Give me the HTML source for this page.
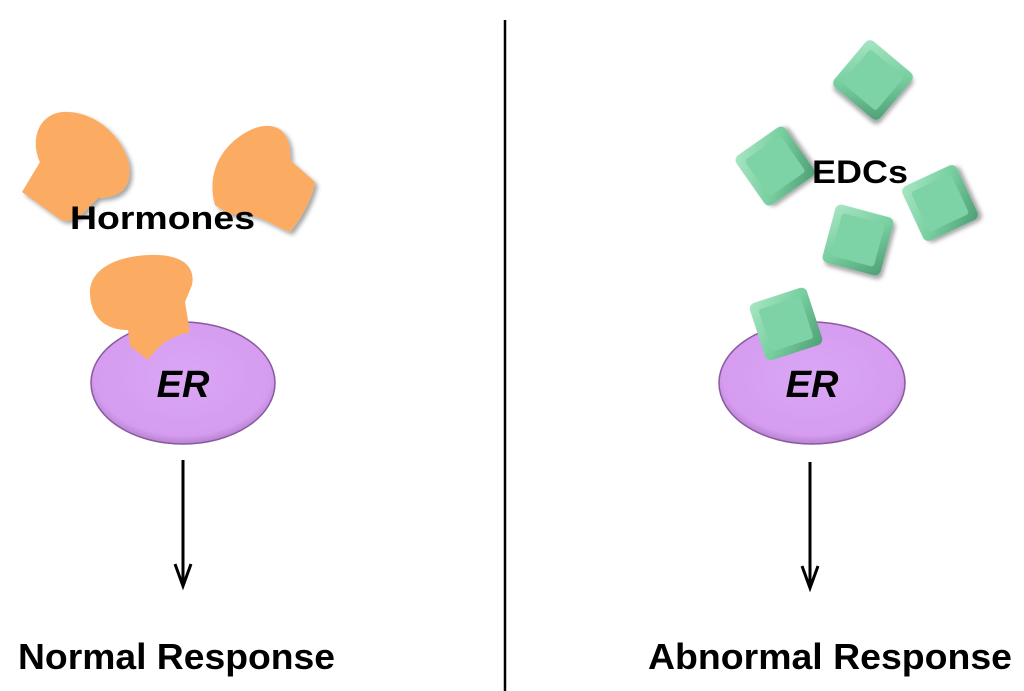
<!DOCTYPE html>
<html><head><meta charset="utf-8"><style>
html,body{margin:0;padding:0;background:#fff;}
svg{display:block;}
text{font-family:"Liberation Sans",Arial,sans-serif;font-weight:bold;fill:#000;}
</style></head><body>
<svg width="1024" height="691" viewBox="0 0 1024 691" xmlns="http://www.w3.org/2000/svg">
<defs>
<radialGradient id="er" cx="0.5" cy="0.45" r="0.6">
<stop offset="0" stop-color="#dba6f5"/><stop offset="0.8" stop-color="#d59cef"/><stop offset="1" stop-color="#a070b8"/>
</radialGradient>
<linearGradient id="gr" x1="0" y1="0" x2="1" y2="1">
<stop offset="0" stop-color="#a8e6c4"/><stop offset="0.5" stop-color="#78cfa0"/><stop offset="1" stop-color="#4e9e74"/>
</linearGradient>
<filter id="sh" x="-20%" y="-20%" width="150%" height="150%"><feDropShadow dx="3" dy="3" stdDeviation="2" flood-color="#000" flood-opacity="0.35"/></filter>
<g id="cube">
<rect x="-30" y="-30" width="60" height="60" rx="6" fill="url(#gr)"/>
<rect x="-22" y="-22" width="44" height="44" rx="3" fill="#7dd3a5"/>
</g>
</defs>
<line x1="505" y1="20" x2="505" y2="691" stroke="#000" stroke-width="2.5"/>

<path d="M40,162 C30,140 38,115 62,112 C90,110 118,130 128,160 C134,185 122,198 98,198 L88,208 C78,220 66,224 58,218 L22,192 Z" fill="#fbac62" filter="url(#sh)"/>
<path d="M215,205 C205,170 225,140 255,128 C280,120 292,135 290,160 L315,182 C312,200 300,220 290,232 C270,225 255,210 230,215 Z" fill="#fbac62" filter="url(#sh)"/>
<ellipse cx="183" cy="383" rx="92" ry="61" fill="url(#er)" stroke="#8a5aa0" stroke-width="1.5"/>
<path d="M90,295 C88,270 115,256 150,255 C180,254 196,265 192,285 L185,302 L190,332 C175,336 162,340 148,360 L130,346 L128,330 C110,330 92,322 90,295 Z" fill="#fbac62"/>
<text x="183" y="397" font-size="38" font-style="italic" text-anchor="middle">ER</text>
<text x="70" y="229" font-size="32" textLength="185" lengthAdjust="spacingAndGlyphs">Hormones</text>

<use href="#cube" transform="translate(873,80) rotate(40)" filter="url(#sh)"/>
<use href="#cube" transform="translate(775,166) rotate(-35)" filter="url(#sh)"/>
<use href="#cube" transform="translate(940,203) rotate(-25)" filter="url(#sh)"/>
<use href="#cube" transform="translate(858,240) rotate(15)" filter="url(#sh)"/>
<ellipse cx="812" cy="383" rx="93" ry="61" fill="url(#er)" stroke="#8a5aa0" stroke-width="1.5"/>
<use href="#cube" transform="translate(786,324) rotate(-18)"/>
<text x="812" y="397" font-size="38" font-style="italic" text-anchor="middle">ER</text>
<text x="812" y="183" font-size="32" textLength="96" lengthAdjust="spacingAndGlyphs">EDCs</text>

<line x1="183" y1="460" x2="183" y2="582" stroke="#000" stroke-width="3"/>
<path d="M175,564 L183,586 L191,564" fill="none" stroke="#000" stroke-width="3"/>
<line x1="810" y1="462" x2="810" y2="584" stroke="#000" stroke-width="3"/>
<path d="M802,566 L810,588 L818,566" fill="none" stroke="#000" stroke-width="3"/>

<text x="18" y="669" font-size="36" textLength="317" lengthAdjust="spacingAndGlyphs">Normal Response</text>
<text x="648" y="669" font-size="36" textLength="364" lengthAdjust="spacingAndGlyphs">Abnormal Response</text>
</svg>
</body></html>
